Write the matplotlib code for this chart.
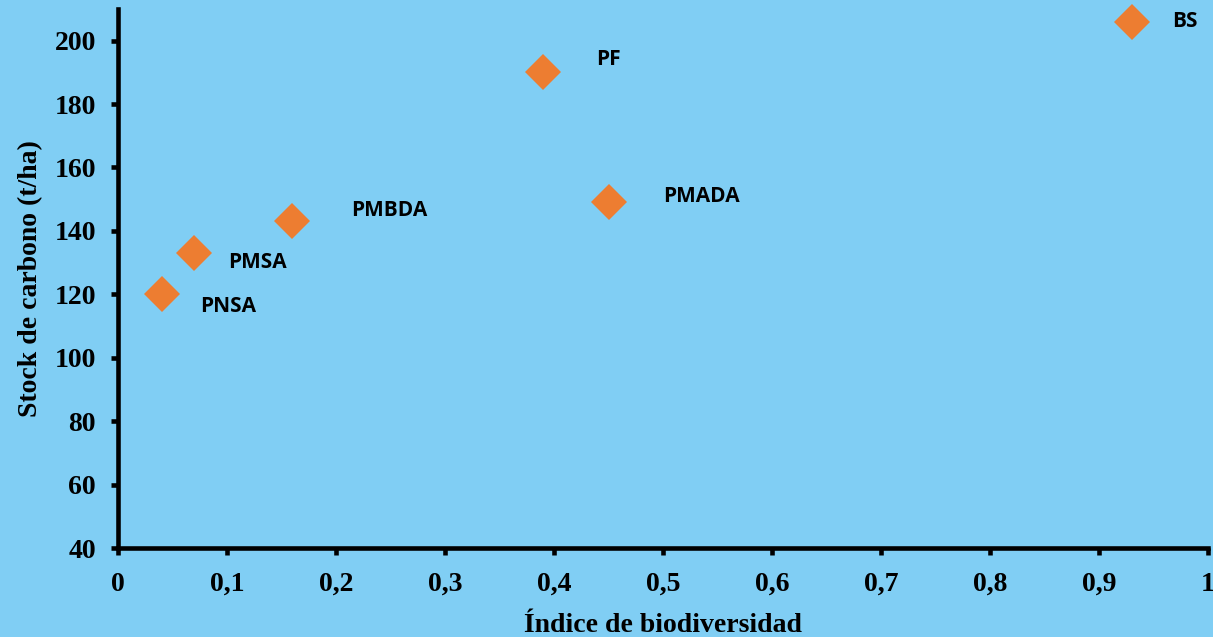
import matplotlib.pyplot as plt
from matplotlib.ticker import FuncFormatter

# datos
sistemas = ['PNSA', 'PMSA', 'PMBDA', 'PF', 'PMADA', 'BS']
indice_biodiversidad = [0.04, 0.07, 0.16, 0.39, 0.45, 0.93]
stock_carbono = [120, 133, 143, 190, 149, 206]
# desplazamiento de cada etiqueta en puntos (x, y)
desplazamientos = [(28, -9), (24, -7), (42, 8), (38, 9), (39, 4), (29, 0)]

x_ticks = [0, 0.1, 0.2, 0.3, 0.4, 0.5, 0.6, 0.7, 0.8, 0.9, 1.0]
y_ticks = [40, 60, 80, 100, 120, 140, 160, 180, 200]

fondo = '#80CEF4'
naranja = '#ED7D31'

fig = plt.figure(figsize=(12.13, 6.37), dpi=100)
fig.patch.set_facecolor(fondo)
ax = fig.add_axes([0.0973, 0.1397, 0.8986, 0.8463])
ax.set_facecolor(fondo)

ax.plot(indice_biodiversidad, stock_carbono, linestyle='none', marker='D',
        markersize=18, color=naranja, markeredgewidth=0, clip_on=False)

for nombre, x, y, d in zip(sistemas, indice_biodiversidad, stock_carbono, desplazamientos):
    ax.annotate(nombre, (x, y), xytext=d, textcoords='offset points',
                ha='left', va='center', fontsize=15, fontweight='bold',
                family='Open Sans', color='black')

ax.set_xlim(0, 1.0)
ax.set_ylim(40, 210)
ax.set_xticks(x_ticks)
ax.set_yticks(y_ticks)


def coma(v, pos):
    if abs(v - round(v)) < 1e-9:
        return str(int(round(v)))
    return ('%.1f' % v).replace('.', ',')


ax.xaxis.set_major_formatter(FuncFormatter(coma))

for s in ['top', 'right']:
    ax.spines[s].set_visible(False)
for s in ['left', 'bottom']:
    ax.spines[s].set_linewidth(3.3)
ax.tick_params(direction='out', length=5, width=3.3, colors='black')
ax.tick_params(axis='x', pad=12)
ax.tick_params(axis='y', pad=11)
for lab in ax.get_xticklabels() + ax.get_yticklabels():
    lab.set_family('Liberation Serif')
    lab.set_fontweight('bold')
    lab.set_fontsize(20)

ax.set_xlabel('Índice de biodiversidad', family='Liberation Serif',
              fontweight='bold', fontsize=20, labelpad=12)
ax.set_ylabel('Stock de carbono (t/ha)', family='Liberation Serif',
              fontweight='bold', fontsize=20, labelpad=8)

fig.savefig('out.png', dpi=100, facecolor=fondo)
